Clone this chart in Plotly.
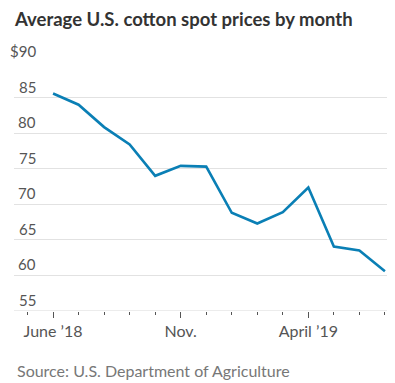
import plotly.graph_objects as go

months = ["Jun 2018", "Jul 2018", "Aug 2018", "Sep 2018", "Oct 2018", "Nov 2018", "Dec 2018",
          "Jan 2019", "Feb 2019", "Mar 2019", "Apr 2019", "May 2019", "Jun 2019", "Jul 2019"]
prices = [85.57, 84.0, 80.85, 78.4, 74.0, 75.4, 75.3, 68.8, 67.3, 68.9, 72.35, 64.05, 63.5, 60.6]
tick_labels = {0: "June \u201918", 5: "Nov.", 10: "April \u201919"}
y_ticks = [90, 85, 80, 75, 70, 65, 60, 55]
y_tick_labels = ["$90", "85", "80", "75", "70", "65", "60", "55"]

x_idx = list(range(len(months)))

FONT = "Lato"
OFF = 8  # page body margin
W, H = 395 - OFF, 383 - OFF
ML, MR, MT, MB = 14 - OFF, 6, 62 - OFF, 72
PW, PH = W - ML - MR, H - MT - MB

fig = go.Figure()
fig.add_trace(go.Scatter(
    x=x_idx, y=prices, mode="lines",
    line=dict(color="#0a7fb5", width=2.6),
    customdata=months, hovertemplate="%{customdata}: $%{y}<extra></extra>",
))

annotations = []
label_x = (38 - 14) / PW
for v, t in zip(y_ticks, y_tick_labels):
    annotations.append(dict(
        x=label_x, xref="paper", y=v, yref="y", text=t, showarrow=False,
        xanchor="right", yanchor="bottom", yshift=0,
        font=dict(family=FONT, size=15, color="#555555"),
    ))

annotations.append(dict(
    x=(15 - 14) / PW, xref="paper", y=-(370 - 311) / PH, yref="paper",
    text="Source: U.S. Department of Agriculture", showarrow=False,
    xanchor="left", yanchor="middle",
    font=dict(family=FONT, size=16, color="#777777"),
))

fig.update_layout(
    width=W, height=H,
    margin=dict(l=ML, r=MR, t=MT, b=MB),
    paper_bgcolor="white", plot_bgcolor="white",
    showlegend=False,
    title=dict(text="<b>Average U.S. cotton spot prices by month</b>", x=(15 - OFF) / W, xanchor="left",
               y=1 - (20 - OFF) / H, yanchor="middle",
               font=dict(family=FONT, size=18.5, color="#333333")),
    annotations=annotations,
    xaxis=dict(
        range=[-1.53, 13.16],
        tickvals=list(tick_labels.keys()), ticktext=list(tick_labels.values()),
        ticks="outside", ticklen=6, tickwidth=1, tickcolor="#555555",
        minor=dict(ticks="outside", ticklen=3, tickwidth=1, tickcolor="#555555", tick0=0, dtick=1, showgrid=False),
        showline=False, showgrid=False, zeroline=False,
        tickfont=dict(family=FONT, size=16, color="#555555"),
        fixedrange=True,
    ),
    yaxis=dict(
        range=[55, 90], tickvals=y_ticks, showticklabels=False,
        showgrid=True, gridcolor="#e2e2e2", gridwidth=1,
        zeroline=False, showline=False, fixedrange=True,
    ),
)
fig.add_hline(y=55, line=dict(color="#d8d8d8", width=1))

fig.write_html("out.html")
